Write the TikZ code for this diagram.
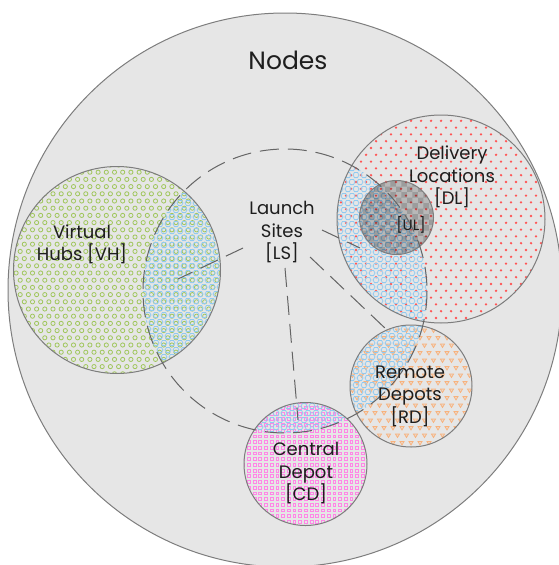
\documentclass[tikz,border=0pt]{standalone}
\usepackage{fontspec}
\setmainfont{Poppins}
\usetikzlibrary{patterns}

\definecolor{bggray}{RGB}{230,230,230}
\definecolor{rimgray}{RGB}{125,125,125}
\definecolor{dashgray}{RGB}{100,100,100}
\definecolor{ink}{RGB}{30,30,30}
\definecolor{ringgreen}{RGB}{160,198,92}
\definecolor{hexblue}{RGB}{145,202,240}
\definecolor{dotred}{RGB}{255,85,85}
\definecolor{trior}{RGB}{248,178,125}
\definecolor{sqmag}{RGB}{255,135,230}

% honeycomb of small hexagons on a global grid, columns #1..#2, rows #3..#4
\newcommand\lshexes[4]{%
  \draw[hexblue, line width=0.8pt]
    foreach \j in {#3,...,#4} { foreach \i in {#1,...,#2} {
      ({8*\i+4*mod(\j,2)}, {7*\j}) +(0:3) -- +(60:3) -- +(120:3)
        -- +(180:3) -- +(240:3) -- +(300:3) -- cycle } };
}

\begin{document}
\begin{tikzpicture}[x=1pt, y=-1pt,
  rim/.style={draw=rimgray, line width=1pt},
  lsdash/.style={draw=dashgray, line width=1pt, dash pattern=on 19pt off 9pt},
  lbl/.style={font=\fontsize{18}{22.5}\selectfont, text=ink, align=center, inner sep=0pt},
]
\useasboundingbox (0,0) rectangle (558,565);

% centres of the regions
\coordinate (outc) at (285,290);
\coordinate (lsc)  at (285,291);
\coordinate (vhc)  at (117,270);
\coordinate (dlc)  at (441,219);
\coordinate (ulc)  at (396.5,217.5);
\coordinate (rdc)  at (411,386);
\coordinate (cdc)  at (305.5,464);

% the whole set of nodes
\fill[bggray] (outc) circle[radius=277];

% virtual hubs: green rings
\begin{scope}
  \clip (vhc) circle[radius=103.5];
  \draw[ringgreen, line width=0.8pt]
    foreach \j in {0,...,29} { foreach \i in {0,...,26} {
      ({12+8.2*\i+4.1*mod(\j,2)}, {165+7.2*\j}) circle[radius=2.1] } };
\end{scope}

% delivery locations: red dots
\begin{scope}
  \clip (dlc) circle[radius=104];
  \fill[dotred]
    foreach \j in {0,...,31} { foreach \i in {0,...,21} {
      ({336+10*\i+5*mod(\j,2)}, {114+6.8*\j}) circle[radius=1.3] } };
\end{scope}

% remote depots: orange triangles
\begin{scope}
  \clip (rdc) circle[radius=61];
  \draw[trior, line width=0.7pt, fill=trior!30!bggray]
    foreach \j in {0,...,17} { foreach \i in {0,...,14} {
      ({348+9*\i+4.5*mod(\j,2)}, {323+7.5*\j})
        +(-2.1,-1.5) -- +(2.1,-1.5) -- +(0,2) -- cycle } };
\end{scope}

% central depot: magenta squares
\begin{scope}
  \clip (cdc) circle[radius=61.5];
  \draw[sqmag, line width=0.6pt]
    foreach \j in {0,...,22} { foreach \i in {0,...,22} {
      ({243+5.7*\i}, {402+5.7*\j}) +(-1.4,-1.4) rectangle +(1.4,1.4) } };
\end{scope}

% launch sites overlapping each region: blue honeycomb
\begin{scope}
  \clip (lsc) circle[radius=142];
  \clip (vhc) circle[radius=103.5];
  \lshexes{17}{28}{26}{53}
\end{scope}
\begin{scope}
  \clip (lsc) circle[radius=142];
  \clip (dlc) circle[radius=104];
  \lshexes{41}{54}{21}{46}
\end{scope}
\begin{scope}
  \clip (lsc) circle[radius=142];
  \clip (rdc) circle[radius=61];
  \lshexes{42}{54}{45}{62}
\end{scope}
\begin{scope}
  \clip (lsc) circle[radius=142];
  \clip (cdc) circle[radius=61.5];
  \lshexes{29}{47}{56}{63}
\end{scope}

% UL: shaded checker disc inside the delivery locations
\fill[black, opacity=0.2] (ulc) circle[radius=37];
\fill[pattern=checkerboard, pattern color=black, opacity=0.15] (ulc) circle[radius=37];

% outlines
\draw[rim] (outc) circle[radius=277];
\draw[rim] (vhc) circle[radius=103.5];
\draw[rim] (dlc) circle[radius=104];
\draw[rim] (ulc) circle[radius=37];
\draw[rim] (rdc) circle[radius=61];
\draw[rim] (cdc) circle[radius=61.5];

% launch sites boundary
\draw[lsdash] (lsc) circle[radius=142];

% labels
\node[lbl, font=\fontsize{25}{30}\selectfont] (nodes) at (288,60) {Nodes};
\node[lbl] (vh) at (82,244.5) {Virtual\\Hubs [VH]};
\node[lbl] (ls) at (282,232.5) {Launch\\Sites\\{}[LS]};
\node[lbl] (dl) at (452,177) {Delivery\\Locations\\{}[DL]};
\node[lbl] (rd) at (410,396) {Remote\\Depots\\{}[RD]};
\node[lbl] (cd) at (306,473.5) {Central\\Depot\\{}[CD]};
\node[lbl, font=\fontsize{15}{18}\selectfont] (ul) at (411,225) {[UL]};

% links from launch sites into the other regions
\coordinate (lsw)  at (243,248);
\coordinate (lsne) at (322,230);
\coordinate (lsse) at (310,257);
\coordinate (lss)  at (285,268);
\coordinate (vhend) at (178,279);
\coordinate (dlend) at (360,248);
\coordinate (rdend) at (387,330);
\coordinate (cdend) at (298,420);
\draw[lsdash] (lsw) -- (vhend);
\draw[lsdash] (lsne) -- (dlend);
\draw[lsdash] (lsse) -- (rdend);
\draw[lsdash] (lss) -- (cdend);
\end{tikzpicture}
\end{document}
